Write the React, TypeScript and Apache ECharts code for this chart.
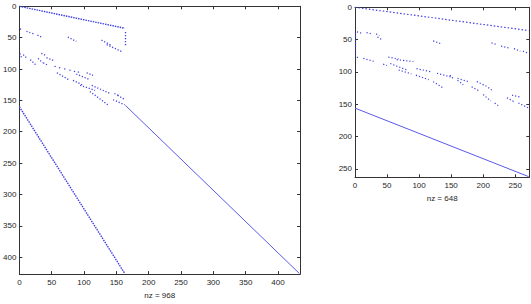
import { useEffect, useRef } from "react";
import * as echarts from "echarts";

const leftSize = [426, 433];
const rightSize = [262, 271];

const leftXTicks = [0, 50, 100, 150, 200, 250, 300, 350, 400];
const leftYTicks = [0, 50, 100, 150, 200, 250, 300, 350, 400];
const rightXTicks = [0, 50, 100, 150, 200, 250];
const rightYTicks = [0, 50, 100, 150, 200, 250];

const leftNz = 968;
const rightNz = 648;

// Each run: [rowStart, colStart, rowEnd, colEnd]
const leftSolidRuns = [
  [158, 164, 426, 433],
];
const leftDenseRuns = [
  [0, 0, 35, 163],
  [160, 0, 426, 163],
];
const leftDotRuns = [
  [41, 164, 65, 164],
  [36, 1, 38, 5],
  [40, 11, 42, 17],
  [43, 20, 45, 24],
  [46, 28, 49, 34],
  [49, 75, 56, 88],
  [54, 127, 62, 142],
  [61, 135, 73, 160],
  [75, 1, 84, 4],
  [77, 6, 83, 12],
  [85, 17, 95, 27],
  [75, 34, 78, 40],
  [82, 42, 87, 54],
  [83, 29, 90, 36],
  [90, 37, 94, 44],
  [95, 55, 98, 56],
  [97, 62, 100, 63],
  [99, 70, 102, 71],
  [101, 78, 104, 79],
  [103, 85, 106, 86],
  [104, 91, 107, 92],
  [106, 58, 118, 78],
  [106, 104, 110, 114],
  [108, 88, 117, 109],
  [118, 83, 126, 99],
  [126, 94, 134, 117],
  [126, 112, 139, 140],
  [136, 109, 157, 137],
  [139, 147, 142, 153],
  [142, 152, 148, 162],
  [149, 145, 157, 163],
];

const rightSolidRuns = [
  [156, 0, 262, 271],
];
const rightDenseRuns = [
  [0, 0, 36, 271],
];
const rightDotRuns = [
  [40, 0, 75, 0],
  [38, 3, 40, 10],
  [39, 18, 41, 26],
  [41, 33, 44, 38],
  [46, 35, 50, 42],
  [52, 122, 56, 133],
  [55, 213, 58, 222],
  [60, 228, 63, 240],
  [64, 248, 68, 258],
  [68, 262, 71, 270],
  [77, 3, 80, 7],
  [79, 13, 84, 31],
  [88, 44, 90, 50],
  [77, 52, 80, 68],
  [81, 65, 84, 91],
  [87, 55, 97, 81],
  [97, 68, 103, 88],
  [105, 95, 112, 115],
  [115, 122, 125, 138],
  [95, 96, 100, 120],
  [102, 128, 108, 150],
  [110, 160, 115, 177],
  [105, 148, 112, 155],
  [113, 160, 120, 169],
  [123, 182, 130, 195],
  [135, 200, 145, 212],
  [148, 218, 154, 226],
  [115, 190, 122, 205],
  [124, 208, 130, 216],
  [140, 237, 147, 250],
  [148, 255, 156, 271],
  [136, 245, 139, 258],
];

const BLUE = "#4040e2";
const AXIS = "#333333";
const FONT = "Liberation Sans, Arial, Helvetica, sans-serif";

function toLines(runs: number[][]) {
  return runs.map((r) => ({ coords: [[r[1], r[0]], [r[3], r[2]]] }));
}

function xAxes(grid: number, max: number, ticks: number[], name: string, gap: number) {
  const base = {
    type: "value" as const,
    gridIndex: grid,
    min: 0,
    max,
    splitLine: { show: false },
    axisLine: { show: true, onZero: false, lineStyle: { color: AXIS, width: 1 } },
  };
  return [
    {
      ...base,
      position: "bottom",
      axisTick: { show: true, inside: true, length: 3, customValues: ticks, lineStyle: { color: AXIS } },
      axisLabel: { customValues: ticks, fontSize: 8, color: "#262626", margin: 4, fontFamily: FONT },
      name,
      nameLocation: "middle",
      nameGap: gap,
      nameTextStyle: { fontSize: 8, color: "#262626", fontFamily: FONT },
    },
    {
      ...base,
      position: "top",
      axisTick: { show: true, inside: true, length: 3, customValues: ticks, lineStyle: { color: AXIS } },
      axisLabel: { show: false },
    },
  ];
}

function yAxes(grid: number, max: number, ticks: number[]) {
  const base = {
    type: "value" as const,
    gridIndex: grid,
    min: 0,
    max,
    inverse: true,
    splitLine: { show: false },
    axisLine: { show: true, onZero: false, lineStyle: { color: AXIS, width: 1 } },
  };
  return [
    {
      ...base,
      position: "left",
      axisTick: { show: true, inside: true, length: 3, customValues: ticks, lineStyle: { color: AXIS } },
      axisLabel: { customValues: ticks, fontSize: 8, color: "#262626", margin: 3, fontFamily: FONT },
    },
    {
      ...base,
      position: "right",
      axisTick: { show: true, inside: true, length: 3, customValues: ticks, lineStyle: { color: AXIS } },
      axisLabel: { show: false },
    },
  ];
}

function linesSeries(xi: number, yi: number, runs: number[][], width: number, type: any, color = BLUE) {
  return {
    type: "lines",
    coordinateSystem: "cartesian2d",
    xAxisIndex: xi,
    yAxisIndex: yi,
    polyline: false,
    silent: true,
    data: toLines(runs),
    lineStyle: { color, width, type, opacity: 1 },
  };
}

export default function App() {
  const ref = useRef<HTMLDivElement>(null);
  useEffect(() => {
    if (!ref.current) return;
    const chart = echarts.init(ref.current, null, { renderer: "svg" });
    chart.setOption({
      animation: false,
      backgroundColor: "#ffffff",
      grid: [
        { left: 17.5, top: 6.3, width: 282.5, height: 277.7, containLabel: false },
        { left: 355, top: 7.3, width: 174.3, height: 170, containLabel: false },
      ],
      xAxis: [
        ...xAxes(0, leftSize[1] + 1, leftXTicks, `nz = ${leftNz}`, 13),
        ...xAxes(1, rightSize[1] + 1, rightXTicks, `nz = ${rightNz}`, 15),
      ],
      yAxis: [
        ...yAxes(0, leftSize[0] + 1, leftYTicks),
        ...yAxes(1, rightSize[0] + 1, rightYTicks),
      ],
      series: [
        linesSeries(0, 0, leftSolidRuns, 1, "solid", "#5a5ae8"),
        linesSeries(0, 0, leftDenseRuns, 1.4, [1.5, 1], BLUE),
        linesSeries(0, 0, leftDotRuns, 1.3, [1.2, 1.8], BLUE),
        linesSeries(2, 2, rightSolidRuns, 1, "solid", "#5a5ae8"),
        linesSeries(2, 2, rightDenseRuns, 1.2, [1.5, 2], BLUE),
        linesSeries(2, 2, rightDotRuns, 1.2, [1.2, 2], BLUE),
      ],
    });
    return () => chart.dispose();
  }, []);
  return <div ref={ref} style={{ width: 531, height: 304, position: "absolute", left: 0, top: 0 }} />;
}
